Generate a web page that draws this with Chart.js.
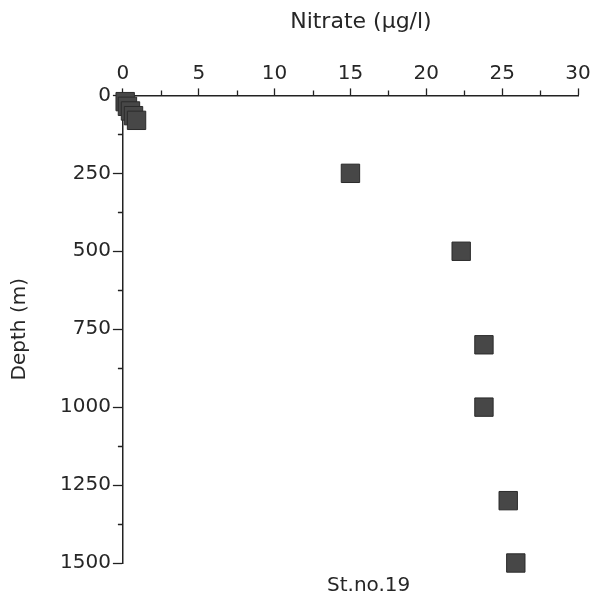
<!DOCTYPE html>
<html>
<head>
<meta charset="utf-8">
<script src="https://cdn.jsdelivr.net/npm/chart.js@4"></script>
<style>
  html, body { margin: 0; padding: 0; background: #fff; }
  #wrap { width: 596px; height: 608px; }
</style>
</head>
<body>
<div id="wrap"><canvas id="nitrate-graph"></canvas></div>
<script>
// values
const nitrate = [0.15, 0.3, 0.5, 0.7, 0.9, 15.0, 22.3, 23.8, 23.8, 25.4, 25.9]
const depth = [20, 35, 50, 65, 80, 250, 500, 800, 1000, 1300, 1500]
const xTicks = [0, 5, 10, 15, 20, 25, 30]
const yTicks = [0, 250, 500, 750, 1000, 1250, 1500]
const stationLabel = 'St.no.19'

const FONT = 'DejaVu Sans'
const INK = '#222'
const TEXT = '#262626'

let points = []
nitrate.forEach((v, i) => {
    points.push({ x: v, y: depth[i] })
})

// short minor ticks between the labelled ones + station name under the plot
const extras = {
    id: 'extras',
    afterDraw(chart) {
        const ctx = chart.ctx
        const xs = chart.scales.x
        const ys = chart.scales.y
        ctx.save()
        ctx.strokeStyle = INK
        ctx.lineWidth = 1.3
        ctx.beginPath()
        for (let v = 2.5; v < 30; v += 5) {
            const px = Math.round(xs.getPixelForValue(v)) + 0.5
            ctx.moveTo(px, xs.bottom)
            ctx.lineTo(px, xs.bottom - 5)
        }
        for (let v = 125; v < 1500; v += 250) {
            const py = Math.round(ys.getPixelForValue(v)) + 0.5
            ctx.moveTo(ys.right, py)
            ctx.lineTo(ys.right - 5, py)
        }
        ctx.stroke()

        const area = chart.chartArea
        ctx.fillStyle = TEXT
        ctx.font = '20px "' + FONT + '"'
        ctx.textAlign = 'center'
        ctx.textBaseline = 'middle'
        ctx.fillText(stationLabel, area.left + (area.right - area.left) * 0.54, 586)
        ctx.restore()
    }
}

const ctx = document.getElementById('nitrate-graph').getContext('2d')
const myChart = new Chart(ctx, {
    type: 'scatter',
    data: {
        datasets: [{
            label: 'nitrate',
            data: points,
            pointStyle: 'rect',
            pointRadius: 13,
            pointHoverRadius: 13,
            backgroundColor: '#474747',
            borderColor: '#2b2b2b',
            borderWidth: 1,
            clip: false
        }]
    },
    options: {
        responsive: true,
        maintainAspectRatio: false,
        animation: false,
        layout: {
            padding: { left: 0, right: 18, top: 0, bottom: 45 }
        },
        plugins: {
            legend: { display: false },
            tooltip: { enabled: false }
        },
        scales: {
            x: {
                type: 'linear',
                position: 'top',
                min: 0,
                max: 30,
                afterBuildTicks: axis => {
                    axis.ticks = xTicks.map(v => ({ value: v }))
                },
                ticks: {
                    color: TEXT,
                    font: { family: FONT, size: 20 },
                    padding: 3,
                    maxRotation: 0,
                    callback: v => String(v)
                },
                grid: {
                    drawOnChartArea: false,
                    tickLength: 7,
                    tickColor: INK,
                    tickWidth: 1.3
                },
                border: { color: INK, width: 1.5 },
                title: {
                    display: true,
                    text: '   Nitrate (\u00b5g/l)',
                    color: TEXT,
                    font: { family: FONT, size: 22 },
                    padding: { top: 9, bottom: 23 }
                }
            },
            y: {
                type: 'linear',
                reverse: true,
                min: 0,
                max: 1500,
                afterBuildTicks: axis => {
                    axis.ticks = yTicks.map(v => ({ value: v }))
                },
                ticks: {
                    color: TEXT,
                    font: { family: FONT, size: 20 },
                    padding: 2,
                    callback: v => String(v)
                },
                grid: {
                    drawOnChartArea: false,
                    tickLength: 10,
                    tickColor: INK,
                    tickWidth: 1.3
                },
                border: { color: INK, width: 1.5 },
                title: {
                    display: true,
                    text: 'Depth (m)',
                    color: TEXT,
                    font: { family: FONT, size: 20 },
                    padding: { top: 8, bottom: 26 }
                }
            }
        }
    },
    plugins: [extras]
});
</script>
</body>
</html>
